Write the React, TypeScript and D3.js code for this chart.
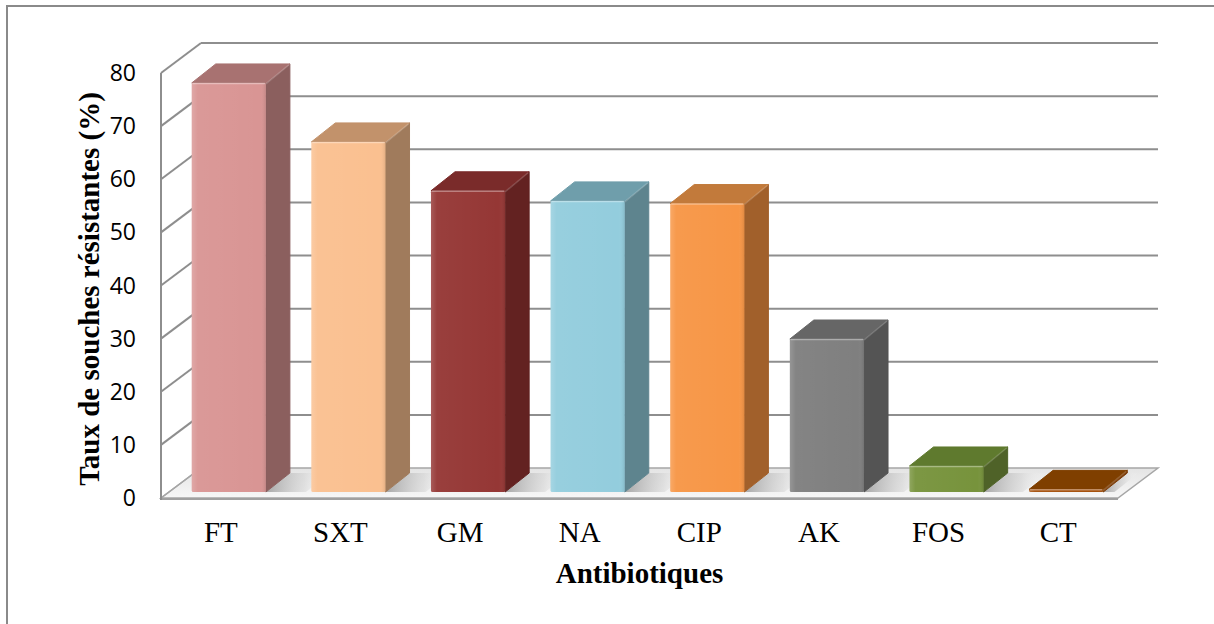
import React from "react";
import * as d3 from "d3";

// Antibiotic resistance rates (%)
const categories = ["FT", "SXT", "GM", "NA", "CIP", "AK", "FOS", "CT"];
const values = [77.0, 65.9, 56.7, 54.8, 54.3, 28.8, 4.9, 0.5];
const yTicks = [0, 10, 20, 30, 40, 50, 60, 70, 80];

// Face colours for each bar: front, side, top
const frontColors = ["#D99594", "#FAC090", "#953735", "#93CDDD", "#F79646", "#7F7F7F", "#77933C", "#A5500C"];
const sideColors = ["#8B5F5E", "#A07B5C", "#632221", "#5E848E", "#A1602B", "#545454", "#4F6228", "#7A3A05"];
const topColors = ["#A87271", "#C2926B", "#7A2B2A", "#6F9EAB", "#C27A3B", "#666666", "#5F7A2E", "#7F3F00"];

const W = 1214;
const H = 624;

// Front plane of the 3D box
const X0 = 161;
const X1 = 1118;
const Y0 = 498;
const Y80 = 73;
// Depth of the walls / floor
const WALL_DX = 40;
const WALL_DY = -30;
// Front face of the bars sits slightly back in depth
const BAR_OFF_DX = 8;
const BAR_OFF_DY = -6;
// Bar depth
const BAR_DX = 24;
const BAR_DY = -19;

const GRID = "#8e8e8e";

export default function App() {
  const x = d3
    .scaleBand<string>()
    .domain(categories)
    .range([X0, X1])
    .paddingInner(0.38)
    .paddingOuter(0.19);
  const xCenter = d3.scaleBand<string>().domain(categories).range([X0, X1]);
  const y = d3.scaleLinear().domain([0, 80]).range([Y0, Y80]);
  const bw = x.bandwidth();

  const pts = (p: [number, number][]) => p.map((q) => q.join(",")).join(" ");

  const floor: [number, number][] = [
    [X0, Y0],
    [X1, Y0],
    [X1 + WALL_DX, Y0 + WALL_DY],
    [X0 + WALL_DX, Y0 + WALL_DY],
  ];

  return (
    <svg
      width={W}
      height={H}
      style={{ position: "absolute", left: 0, top: 0, background: "#fff" }}
      fontFamily="'Liberation Serif', 'Times New Roman', serif"
    >
      <defs>
        <linearGradient id="floorGrad" x1="0" y1="0" x2="0" y2="1">
          <stop offset="0" stopColor="#e4e4e4" />
          <stop offset="1" stopColor="#f7f7f7" />
        </linearGradient>
        <linearGradient id="shadowGrad" x1="0" y1="0" x2="1" y2="0">
          <stop offset="0" stopColor="#9a9a9a" stopOpacity="0.85" />
          <stop offset="0.6" stopColor="#cfcfcf" stopOpacity="0.5" />
          <stop offset="1" stopColor="#ffffff" stopOpacity="0" />
        </linearGradient>
        <linearGradient id="frontSheen" x1="0" y1="0" x2="1" y2="0">
          <stop offset="0" stopColor="#ffffff" stopOpacity="0.18" />
          <stop offset="0.08" stopColor="#ffffff" stopOpacity="0.04" />
          <stop offset="0.92" stopColor="#ffffff" stopOpacity="0" />
          <stop offset="1" stopColor="#000000" stopOpacity="0.1" />
        </linearGradient>
      </defs>

      {/* outer chart frame */}
      <rect x={7} y={6} width={1230} height={640} fill="none" stroke="#8a8a8a" strokeWidth={2} />

      {/* floor */}
      <polygon points={pts(floor)} fill="url(#floorGrad)" stroke="#a6a6a6" strokeWidth={1.5} />
      <line x1={X0} y1={Y0 + 1} x2={X1} y2={Y0 + 1} stroke="#a0a0a0" strokeWidth={2} />

      {/* gridlines on the side wall and the back wall */}
      {yTicks.map((t) => (
        <g key={"g" + t}>
          <line
            x1={X0}
            y1={y(t)}
            x2={X0 + WALL_DX}
            y2={y(t) + WALL_DY}
            stroke={t === 0 ? "#a6a6a6" : GRID}
            strokeWidth={t === 0 ? 1.5 : 2}
          />
          {t > 0 && (
            <line
              x1={X0 + WALL_DX}
              y1={y(t) + WALL_DY}
              x2={X1 + WALL_DX}
              y2={y(t) + WALL_DY}
              stroke={GRID}
              strokeWidth={2}
            />
          )}
        </g>
      ))}
      {/* vertical value axis at the front-left edge */}
      <line x1={X0} y1={y(80)} x2={X0} y2={y(0) + 2} stroke={GRID} strokeWidth={2} />

      {/* floor shadows cast by the bars */}
      {categories.map((c, i) => {
        const bx = (x(c) as number) + BAR_OFF_DX + bw;
        const by = y(0) + BAR_OFF_DY;
        const h = Math.min(40, (y(0) - y(values[i])) * 1.2 + 8);
        return (
          <polygon
            key={"s" + c}
            points={pts([
              [bx, by],
              [bx + BAR_DX, by + BAR_DY],
              [bx + BAR_DX + h, by + BAR_DY],
              [bx + h, by],
            ])}
            fill="url(#shadowGrad)"
          />
        );
      })}

      {/* 3D bars */}
      {categories.map((c, i) => {
        const x0 = (x(c) as number) + BAR_OFF_DX;
        const yb = y(0) + BAR_OFF_DY;
        const yt = y(values[i]) + BAR_OFF_DY;
        const side: [number, number][] = [
          [x0 + bw, yt],
          [x0 + bw + BAR_DX, yt + BAR_DY],
          [x0 + bw + BAR_DX, yb + BAR_DY],
          [x0 + bw, yb],
        ];
        const top: [number, number][] = [
          [x0, yt],
          [x0 + BAR_DX, yt + BAR_DY],
          [x0 + bw + BAR_DX, yt + BAR_DY],
          [x0 + bw, yt],
        ];
        return (
          <g key={"b" + c}>
            <polygon points={pts(side)} fill={sideColors[i]} stroke={sideColors[i]} strokeWidth={1} strokeLinejoin="round" />
            <polygon points={pts(top)} fill={topColors[i]} stroke={topColors[i]} strokeWidth={1} strokeLinejoin="round" />
            <rect x={x0} y={yt} width={bw} height={yb - yt} fill={frontColors[i]} rx={1.5} />
            <rect x={x0} y={yt} width={bw} height={yb - yt} fill="url(#frontSheen)" rx={1.5} />
            {/* bevel highlights along the front edges */}
            <line x1={x0 + 1} y1={yt + 0.5} x2={x0 + bw - 1} y2={yt + 0.5} stroke="#ffffff" strokeOpacity={0.35} strokeWidth={1.5} />
            <line x1={x0 + bw} y1={yt + 1} x2={x0 + bw + BAR_DX - 1} y2={yt + BAR_DY + 1} stroke="#ffffff" strokeOpacity={0.18} strokeWidth={1.5} />
          </g>
        );
      })}

      {/* tick labels */}
      {yTicks.map((t) => (
        <text
          key={"t" + t}
          x={136}
          y={y(t)}
          dy="0.35em"
          textAnchor="end"
          fontFamily="'Open Sans', 'Noto Sans', sans-serif"
          fontSize={23}
          fill="#000"
        >
          {t}
        </text>
      ))}

      {/* category labels */}
      {categories.map((c) => (
        <text
          key={"c" + c}
          x={(xCenter(c) as number) + xCenter.bandwidth() / 2}
          y={542}
          textAnchor="middle"
          fontSize={29}
          fill="#000"
        >
          {c}
        </text>
      ))}

      {/* axis titles */}
      <text x={(X0 + X1) / 2} y={583} textAnchor="middle" fontSize={29} fontWeight="bold" fill="#000">
        Antibiotiques
      </text>
      <text
        transform={`translate(99,289) rotate(-90)`}
        textAnchor="middle"
        fontSize={29}
        fontWeight="bold"
        fill="#000"
      >
        Taux de souches résistantes (%)
      </text>
    </svg>
  );
}
